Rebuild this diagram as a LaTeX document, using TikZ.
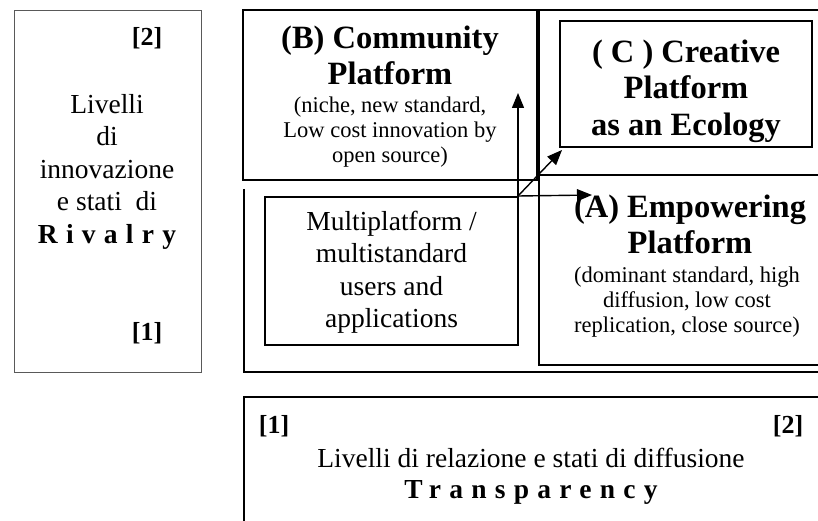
\documentclass[tikz,border=0pt]{standalone}
\usepackage{fontspec}
\setmainfont{Liberation Serif}
\newfontfamily\spacedserif{Liberation Serif}[LetterSpace=30]
\usetikzlibrary{arrows.meta}

\begin{document}
\begin{tikzpicture}[x=1pt,y=-1pt,
  frame/.style={draw,line width=1.3pt,inner sep=0pt,outer sep=0pt,anchor=north west},
  faint/.style={draw=black!65,line width=1pt,inner sep=0pt,outer sep=0pt,anchor=north west},
  rule/.style={line width=1.3pt},
  txt/.style={inner sep=0pt,outer sep=0pt,align=center,anchor=north},
  rankmark/.style={inner sep=0pt,outer sep=0pt,anchor=base,font=\fontsize{26}{29}\selectfont\bfseries},
  headfont/.style={font=\fontsize{32.5}{36.5}\selectfont\bfseries},
  smallfont/.style={font=\fontsize{22.5}{25}\selectfont},
  bodyfont/.style={font=\fontsize{27.5}{32.6}\selectfont},
  axisfont/.style={font=\fontsize{27.5}{31.5}\selectfont},
  arr/.style={line width=1.4pt,-{Triangle[length=15pt,width=12pt]}}]

\useasboundingbox (0,0) rectangle (818,521);
\clip (0,0) rectangle (818,521);
\fill[white] (0,0) rectangle (818,521);

% frames
\node[faint,minimum width=187pt,minimum height=361pt] (rivbox) at (14,11) {};
\node[frame,minimum width=294pt,minimum height=170pt] (commbox) at (243,10) {};
\node[frame,minimum width=300pt,minimum height=165pt] (rightcol) at (539,10) {};
\node[frame,minimum width=300pt,minimum height=190pt] (empbox) at (539,175) {};
\node[frame,minimum width=252pt,minimum height=126pt] (creabox) at (560,21) {};
\node[frame,minimum width=253pt,minimum height=148pt] (multibox) at (265,197) {};
\node[frame,minimum width=600pt,minimum height=200pt] (transbox) at (244,397) {};
\coordinate (baseTL) at (244,189);
\coordinate (baseBL) at (244,372);
\coordinate (baseBR) at (840,372);
\draw[rule] (baseTL) -- (baseBL) -- (baseBR);

% rivalry axis
\node[rankmark] (rivtop) at (147,46) {[2]};
\node[rankmark] (rivbot) at (147,340) {[1]};
\node[txt,bodyfont] (rivtext) at (107,90.2)
  {\strut Livelli\\\strut di\\\strut innovazione\\\strut e stati\enspace di\\\strut{\spacedserif\bfseries Rivalry}};

% community platform
\node[txt,headfont] (commhead) at (390,22.5) {\strut (B) Community\\\strut Platform};
\node[txt,smallfont] (commsub) at (390,95.5)
  {\strut (niche, new standard,\\\strut Low cost innovation by\\\strut open source)};

% creative platform
\node[txt,headfont] (creahead) at (686,36.5)
  {\strut ( C ) Creative\\\strut Platform\\\strut as an Ecology};

% empowering platform
\node[txt,headfont] (emphead) at (690,191.5) {\strut (A) Empowering\\\strut Platform};
\node[txt,smallfont] (empsub) at (687,264.5)
  {\strut (dominant standard, high\\\strut diffusion, low cost\\\strut replication, close source)};

% multiplatform users
\node[txt,bodyfont] (multitext) at (391.5,207.2)
  {\strut Multiplatform /\\\strut multistandard\\\strut users and\\\strut applications};

% transparency axis
\node[rankmark] (translo) at (274,433) {[1]};
\node[rankmark] (transhi) at (788,433) {[2]};
\node[txt,axisfont] (transtext) at (531,445)
  {\strut Livelli di relazione e stati di diffusione\\\strut{\spacedserif\bfseries Transparency}};

% connectors
\coordinate (hub) at (518,196);
\coordinate (toComm) at (518,93);
\coordinate (toCrea) at (562,150);
\coordinate (toEmp) at (592,195);
\draw[arr] (hub) -- (toComm);
\draw[arr] (hub) -- (toCrea);
\draw[arr] (hub) -- (toEmp);
\end{tikzpicture}
\end{document}
